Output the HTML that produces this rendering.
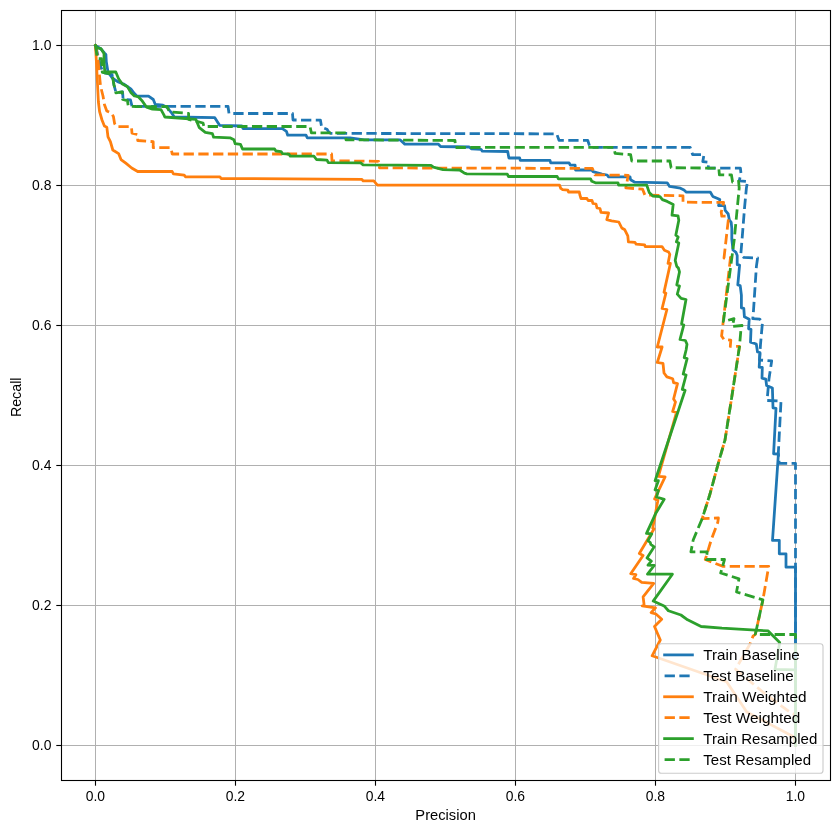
<!DOCTYPE html><html><head><meta charset="utf-8"><style>html,body{margin:0;padding:0;background:#fff;width:839px;height:833px;overflow:hidden} svg{will-change:transform}</style></head><body><svg width="839" height="833" viewBox="0 0 839 833" style="display:block;font-family:'Liberation Sans',sans-serif">
<defs><clipPath id="ax"><rect x="61.5" y="10.5" width="769.00" height="770.00"/></clipPath></defs>
<rect width="839" height="833" fill="#fff"/>
<g stroke="#b0b0b0" stroke-width="1"><line x1="95.50" y1="10.5" x2="95.50" y2="780.5"/><line x1="61.5" y1="745.50" x2="830.5" y2="745.50"/><line x1="235.50" y1="10.5" x2="235.50" y2="780.5"/><line x1="61.5" y1="605.50" x2="830.5" y2="605.50"/><line x1="375.50" y1="10.5" x2="375.50" y2="780.5"/><line x1="61.5" y1="465.50" x2="830.5" y2="465.50"/><line x1="515.50" y1="10.5" x2="515.50" y2="780.5"/><line x1="61.5" y1="325.50" x2="830.5" y2="325.50"/><line x1="655.50" y1="10.5" x2="655.50" y2="780.5"/><line x1="61.5" y1="185.50" x2="830.5" y2="185.50"/><line x1="795.50" y1="10.5" x2="795.50" y2="780.5"/><line x1="61.5" y1="45.50" x2="830.5" y2="45.50"/></g><g fill="none" stroke-width="2.78" stroke-linejoin="round" stroke-linecap="butt" clip-path="url(#ax)"><path d="M95.5,45.4 L97.0,46.5 L101.0,49.0 L104.4,53.0 L105.9,54.4 L106.3,61.6 L108.0,72.0 L112.2,78.0 L117.6,81.6 L123.6,84.0 L130.8,88.8 L134.4,93.6 L136.8,96.0 L148.5,96.1 L153.3,99.5 L155.2,104.3 L162.9,105.2 L166.8,107.2 L172.0,113.4 L174.3,117.0 L214.8,117.7 L219.6,125.3 L241.8,126.0 L243.1,128.7 L282.4,128.7 L286.4,131.3 L287.7,135.2 L306.0,135.2 L307.3,137.8 L350.0,137.8 L364.3,139.8 L400.0,139.8 L404.8,144.1 L438.2,144.1 L440.6,146.5 L469.2,147.0 L471.6,148.9 L481.0,149.3 L482.3,151.2 L507.7,151.5 L508.9,158.0 L519.7,158.0 L520.3,160.4 L550.0,160.4 L550.7,162.8 L569.1,162.8 L570.3,165.2 L575.1,165.2 L575.5,170.0 L591.8,170.0 L593.0,171.7 L602.0,174.2 L607.2,175.0 L608.4,176.8 L630.0,176.8 L630.6,179.8 L634.8,182.2 L667.2,182.8 L669.6,186.4 L680.4,188.2 L684.0,190.0 L686.4,192.2 L710.4,192.2 L712.8,196.4 L718.2,198.8 L719.8,199.6 L718.6,205.6 L724.6,205.6 L725.2,210.4 L728.2,214.0 L729.4,220.0 L731.2,222.4 L731.8,228.4 L731.8,239.2 L733.0,250.0 L736.0,252.4 L737.2,255.6 L737.2,264.6 L739.6,265.2 L737.8,285.0 L740.2,285.6 L741.4,295.2 L741.4,307.8 L743.8,308.4 L744.4,316.8 L749.2,319.2 L748.6,328.8 L751.0,329.4 L750.5,342.1 L756.3,344.0 L757.5,352.0 L760.0,352.5 L759.2,367.1 L762.3,367.5 L762.0,378.2 L765.8,379.2 L766.6,385.5 L772.4,388.0 L773.0,407.8 L776.0,408.4 L773.6,453.8 L778.4,454.0 L772.5,540.3 L779.3,540.3 L779.3,553.8 L786.0,553.8 L786.0,567.2 L795.5,567.2 L795.5,745.4" stroke="#1f77b4" stroke-linecap="square"/><path d="M95.5,45.4 L98.5,58.0 L100.5,66.0 L103.0,72.5 L112.0,74.5 L114.0,85.0 L116.0,92.8 L122.6,92.0 L123.1,99.5 L130.5,100.0 L132.0,106.3 L228.0,106.3 L229.0,113.5 L292.5,113.5 L293.0,120.0 L320.4,120.1 L321.7,127.4 L327.0,129.3 L329.0,132.5 L331.0,133.4 L556.7,133.8 L559.0,140.3 L587.7,140.3 L590.0,147.4 L690.2,147.4 L692.6,154.6 L704.0,154.6 L702.8,161.6 L708.6,162.2 L708.2,168.2 L740.4,168.2 L741.0,173.6 L739.2,180.8 L747.6,181.4 L746.4,188.0 L744.6,207.2 L742.0,240.0 L740.8,254.4 L743.8,257.4 L757.6,258.0 L756.4,266.4 L753.4,312.0 L752.8,318.6 L759.8,319.2 L762.5,322.0 L760.5,344.3 L759.5,360.0 L771.7,360.9 L769.0,378.7 L767.1,400.5 L781.0,401.1 L778.3,453.7 L779.2,463.3 L795.5,463.3 L795.5,745.4" stroke="#1f77b4" stroke-dasharray="10.3,4.45" stroke-linecap="butt"/><path d="M95.5,45.4 L96.3,60.0 L97.2,78.0 L98.4,102.0 L99.6,111.6 L102.0,120.0 L104.4,126.0 L106.8,127.2 L108.0,136.8 L110.4,141.6 L112.8,150.0 L118.6,153.6 L121.0,159.6 L125.8,163.2 L131.7,168.0 L137.7,171.5 L172.2,171.5 L173.4,173.9 L184.2,175.1 L185.4,176.8 L219.9,176.8 L221.1,178.5 L361.9,179.3 L363.1,180.8 L373.8,180.8 L377.4,185.1 L559.6,185.2 L560.8,188.4 L562.6,189.6 L567.9,190.2 L568.5,192.0 L579.3,192.0 L579.9,195.0 L581.0,198.5 L587.0,198.5 L588.0,200.5 L592.0,200.5 L593.0,203.5 L596.0,204.0 L597.0,208.0 L600.0,208.5 L601.0,212.4 L608.6,213.0 L606.8,219.6 L611.6,220.8 L618.8,222.0 L621.8,228.0 L624.8,229.8 L627.8,235.8 L628.4,241.8 L635.0,242.4 L636.2,244.2 L644.6,244.8 L645.2,246.6 L662.0,246.6 L664.4,250.2 L668.6,252.0 L669.8,254.4 L668.0,263.4 L670.4,263.4 L664.0,292.2 L665.9,293.2 L662.1,308.5 L666.9,309.5 L657.3,347.0 L662.1,347.0 L657.3,362.5 L663.0,363.4 L664.0,373.0 L666.9,376.9 L672.7,378.8 L673.6,382.7 L677.5,383.6 L673.6,399.0 L675.5,401.9 L672.7,411.5 L676.5,412.4 L658.4,476.3 L665.1,476.8 L654.6,498.9 L657.9,500.3 L652.7,528.2 L654.1,528.7 L639.3,553.5 L643.1,555.5 L630.7,573.7 L635.9,574.7 L633.5,578.5 L637.9,579.5 L641.7,582.4 L653.7,583.3 L643.1,596.8 L644.1,604.9 L642.2,605.9 L655.5,607.8 L651.1,612.6 L655.9,614.0 L661.7,619.3 L654.5,626.5 L660.3,640.0 L652.1,655.8 L657.9,657.7 L726.6,681.7 L746.8,712.0 L794.1,736.9 L795.5,745.4" stroke="#ff7f0e" stroke-linecap="square"/><path d="M95.5,45.4 L98.0,60.0 L100.5,86.0 L103.0,96.0 L104.4,104.4 L106.8,111.0 L111.0,112.8 L113.4,116.4 L114.6,123.6 L116.4,126.6 L131.4,126.6 L132.0,133.2 L137.7,134.6 L137.7,140.5 L153.2,141.7 L153.2,147.7 L171.0,147.7 L172.2,154.0 L331.6,154.0 L332.0,160.8 L378.6,161.3 L379.5,167.9 L592.4,168.4 L594.8,174.8 L628.2,175.3 L627.0,182.0 L625.8,187.9 L642.5,189.1 L644.9,195.1 L683.0,195.8 L683.0,202.2 L723.6,202.4 L723.0,206.0 L721.2,212.0 L721.8,216.2 L726.0,216.2 L728.4,219.2 L724.0,258.0 L730.5,257.5 L721.6,336.0 L724.0,339.5 L730.8,340.2 L730.3,346.4 L739.5,346.4 L731.3,400.0 L725.0,440.0 L718.4,462.8 L710.0,494.0 L702.2,518.6 L718.4,518.0 L717.8,522.2 L711.2,540.0 L705.3,559.5 L722.6,566.3 L768.7,566.3 L762.9,599.9 L755.3,634.5 L753.0,636.2 L750.4,643.3 L735.6,669.3 L762.6,691.8 L789.6,712.0 L795.5,715.0 L795.5,745.4" stroke="#ff7f0e" stroke-dasharray="10.3,4.45" stroke-linecap="butt"/><path d="M95.5,45.4 L97.2,47.8 L101.0,48.7 L104.0,53.5 L104.0,62.0 L104.8,72.0 L115.8,72.0 L118.8,79.2 L122.4,84.0 L127.2,86.4 L130.8,92.4 L134.4,96.0 L138.0,96.6 L141.8,100.4 L146.6,107.2 L152.4,109.1 L161.0,109.6 L163.9,114.9 L164.8,117.0 L195.8,119.3 L199.3,127.7 L205.3,132.4 L212.4,133.6 L213.6,137.2 L230.0,137.8 L233.9,139.8 L235.2,143.7 L240.5,144.4 L242.5,149.0 L274.6,149.0 L275.9,151.0 L281.1,151.6 L282.4,153.6 L289.0,154.2 L290.3,156.2 L313.9,156.2 L316.5,159.5 L327.0,160.1 L328.3,162.7 L360.7,162.9 L363.1,164.8 L431.0,165.3 L433.4,167.2 L443.0,169.6 L459.7,170.0 L464.4,173.2 L466.8,173.9 L507.3,174.2 L508.5,176.5 L557.2,176.5 L558.4,178.9 L590.6,178.9 L591.8,181.3 L595.4,182.8 L618.0,182.8 L618.6,185.2 L646.8,185.2 L649.2,192.4 L652.8,196.0 L660.0,196.6 L662.4,199.6 L667.2,201.4 L673.2,204.4 L672.0,215.2 L678.0,215.8 L678.8,220.2 L675.8,235.2 L678.2,237.0 L676.4,241.8 L678.8,243.0 L675.2,260.4 L676.8,266.5 L678.4,268.1 L679.5,271.9 L676.8,284.9 L679.5,286.0 L677.3,294.1 L681.1,298.4 L686.0,299.5 L681.6,323.8 L683.8,324.9 L680.0,339.5 L685.4,340.5 L687.0,344.3 L686.1,350.0 L684.2,357.7 L687.1,358.6 L683.2,374.0 L686.1,375.0 L682.3,389.4 L685.1,390.3 L655.1,480.7 L658.4,480.7 L655.1,489.8 L658.4,490.7 L656.5,497.0 L664.2,499.4 L655.5,513.8 L646.5,533.4 L651.8,533.8 L647.9,540.6 L650.3,542.5 L650.8,544.4 L654.2,546.8 L647.0,557.9 L651.3,561.2 L648.0,565.1 L654.2,565.5 L647.5,574.2 L672.4,574.2 L653.2,601.1 L664.1,605.9 L668.4,610.7 L680.9,615.0 L687.6,619.8 L701.1,626.5 L722.0,628.2 L768.2,630.9 L779.7,642.4 L775.0,669.3 L795.5,669.8 L795.5,745.4" stroke="#2ca02c" stroke-linecap="square"/><path d="M95.5,45.4 L97.3,58.6 L101.5,58.6 L102.3,72.5 L112.0,74.2 L114.0,85.1 L115.9,92.8 L122.2,91.8 L122.6,99.5 L127.4,100.6 L128.3,106.2 L136.0,106.5 L161.0,106.7 L167.0,106.5 L169.5,112.0 L188.6,113.4 L188.6,119.3 L203.0,123.0 L204.0,126.5 L310.0,126.5 L311.4,132.9 L345.0,132.9 L346.0,139.8 L455.0,140.5 L455.5,147.5 L613.9,147.4 L615.1,153.4 L630.6,154.6 L631.8,161.0 L669.9,161.0 L671.1,167.7 L718.8,168.2 L719.4,174.8 L724.8,175.0 L731.4,174.8 L732.6,182.0 L738.6,181.4 L739.2,188.0 L734.2,240.0 L723.4,321.6 L734.0,318.6 L732.4,326.4 L742.0,325.5 L740.8,331.2 L739.5,346.4 L731.3,400.0 L725.0,440.0 L718.4,462.8 L710.0,494.0 L702.2,518.6 L693.2,540.0 L690.9,551.9 L707.2,551.9 L706.3,559.5 L724.5,559.5 L720.7,573.0 L739.0,578.8 L736.5,592.0 L762.9,599.9 L755.3,634.5 L795.5,634.5 L795.5,745.4" stroke="#2ca02c" stroke-dasharray="10.3,4.45" stroke-linecap="butt"/></g><rect x="61.5" y="10.5" width="769.00" height="770.00" fill="none" stroke="#000" stroke-width="1.1" stroke-linejoin="miter"/><g stroke="#000" stroke-width="1.1"><line x1="95.50" y1="780.5" x2="95.50" y2="785.70"/><line x1="56.30" y1="745.50" x2="61.5" y2="745.50"/><line x1="235.50" y1="780.5" x2="235.50" y2="785.70"/><line x1="56.30" y1="605.50" x2="61.5" y2="605.50"/><line x1="375.50" y1="780.5" x2="375.50" y2="785.70"/><line x1="56.30" y1="465.50" x2="61.5" y2="465.50"/><line x1="515.50" y1="780.5" x2="515.50" y2="785.70"/><line x1="56.30" y1="325.50" x2="61.5" y2="325.50"/><line x1="655.50" y1="780.5" x2="655.50" y2="785.70"/><line x1="56.30" y1="185.50" x2="61.5" y2="185.50"/><line x1="795.50" y1="780.5" x2="795.50" y2="785.70"/><line x1="56.30" y1="45.50" x2="61.5" y2="45.50"/></g><g font-size="13.9" fill="#000"><text x="95.45" y="801.32" text-anchor="middle">0.0</text><text x="51.38" y="750.45" text-anchor="end">0.0</text><text x="235.45" y="801.32" text-anchor="middle">0.2</text><text x="51.38" y="610.45" text-anchor="end">0.2</text><text x="375.45" y="801.32" text-anchor="middle">0.4</text><text x="51.38" y="470.45" text-anchor="end">0.4</text><text x="515.45" y="801.32" text-anchor="middle">0.6</text><text x="51.38" y="330.45" text-anchor="end">0.6</text><text x="655.45" y="801.32" text-anchor="middle">0.8</text><text x="51.38" y="190.45" text-anchor="end">0.8</text><text x="795.45" y="801.32" text-anchor="middle">1.0</text><text x="51.38" y="50.45" text-anchor="end">1.0</text></g><text x="445.6" y="820" text-anchor="middle" font-size="13.9" textLength="60.5" lengthAdjust="spacingAndGlyphs">Precision</text><text transform="translate(21.3,397.3) rotate(-90)" text-anchor="middle" font-size="13.9" textLength="39.5" lengthAdjust="spacingAndGlyphs">Recall</text><g><rect x="658.6" y="643.7" width="164.4" height="129.5" rx="2.8" fill="#fff" fill-opacity="0.8" stroke="#cccccc" stroke-width="1.11"/><line x1="664.6" y1="654.90" x2="692.4" y2="654.90" stroke="#1f77b4" stroke-width="2.78" stroke-linecap="square"/><text x="703.3" y="659.90" font-size="13.9" textLength="96.5" lengthAdjust="spacingAndGlyphs">Train Baseline</text><line x1="664.6" y1="675.83" x2="692.4" y2="675.83" stroke="#1f77b4" stroke-width="2.78" stroke-linecap="butt" stroke-dasharray="10.3,4.45"/><text x="703.3" y="680.83" font-size="13.9" textLength="90.3" lengthAdjust="spacingAndGlyphs">Test Baseline</text><line x1="664.6" y1="696.76" x2="692.4" y2="696.76" stroke="#ff7f0e" stroke-width="2.78" stroke-linecap="square"/><text x="703.3" y="701.76" font-size="13.9" textLength="103.2" lengthAdjust="spacingAndGlyphs">Train Weighted</text><line x1="664.6" y1="717.69" x2="692.4" y2="717.69" stroke="#ff7f0e" stroke-width="2.78" stroke-linecap="butt" stroke-dasharray="10.3,4.45"/><text x="703.3" y="722.69" font-size="13.9" textLength="97" lengthAdjust="spacingAndGlyphs">Test Weighted</text><line x1="664.6" y1="738.62" x2="692.4" y2="738.62" stroke="#2ca02c" stroke-width="2.78" stroke-linecap="square"/><text x="703.3" y="743.62" font-size="13.9" textLength="114" lengthAdjust="spacingAndGlyphs">Train Resampled</text><line x1="664.6" y1="759.55" x2="692.4" y2="759.55" stroke="#2ca02c" stroke-width="2.78" stroke-linecap="butt" stroke-dasharray="10.3,4.45"/><text x="703.3" y="764.55" font-size="13.9" textLength="107.7" lengthAdjust="spacingAndGlyphs">Test Resampled</text></g>
</svg></body></html>
